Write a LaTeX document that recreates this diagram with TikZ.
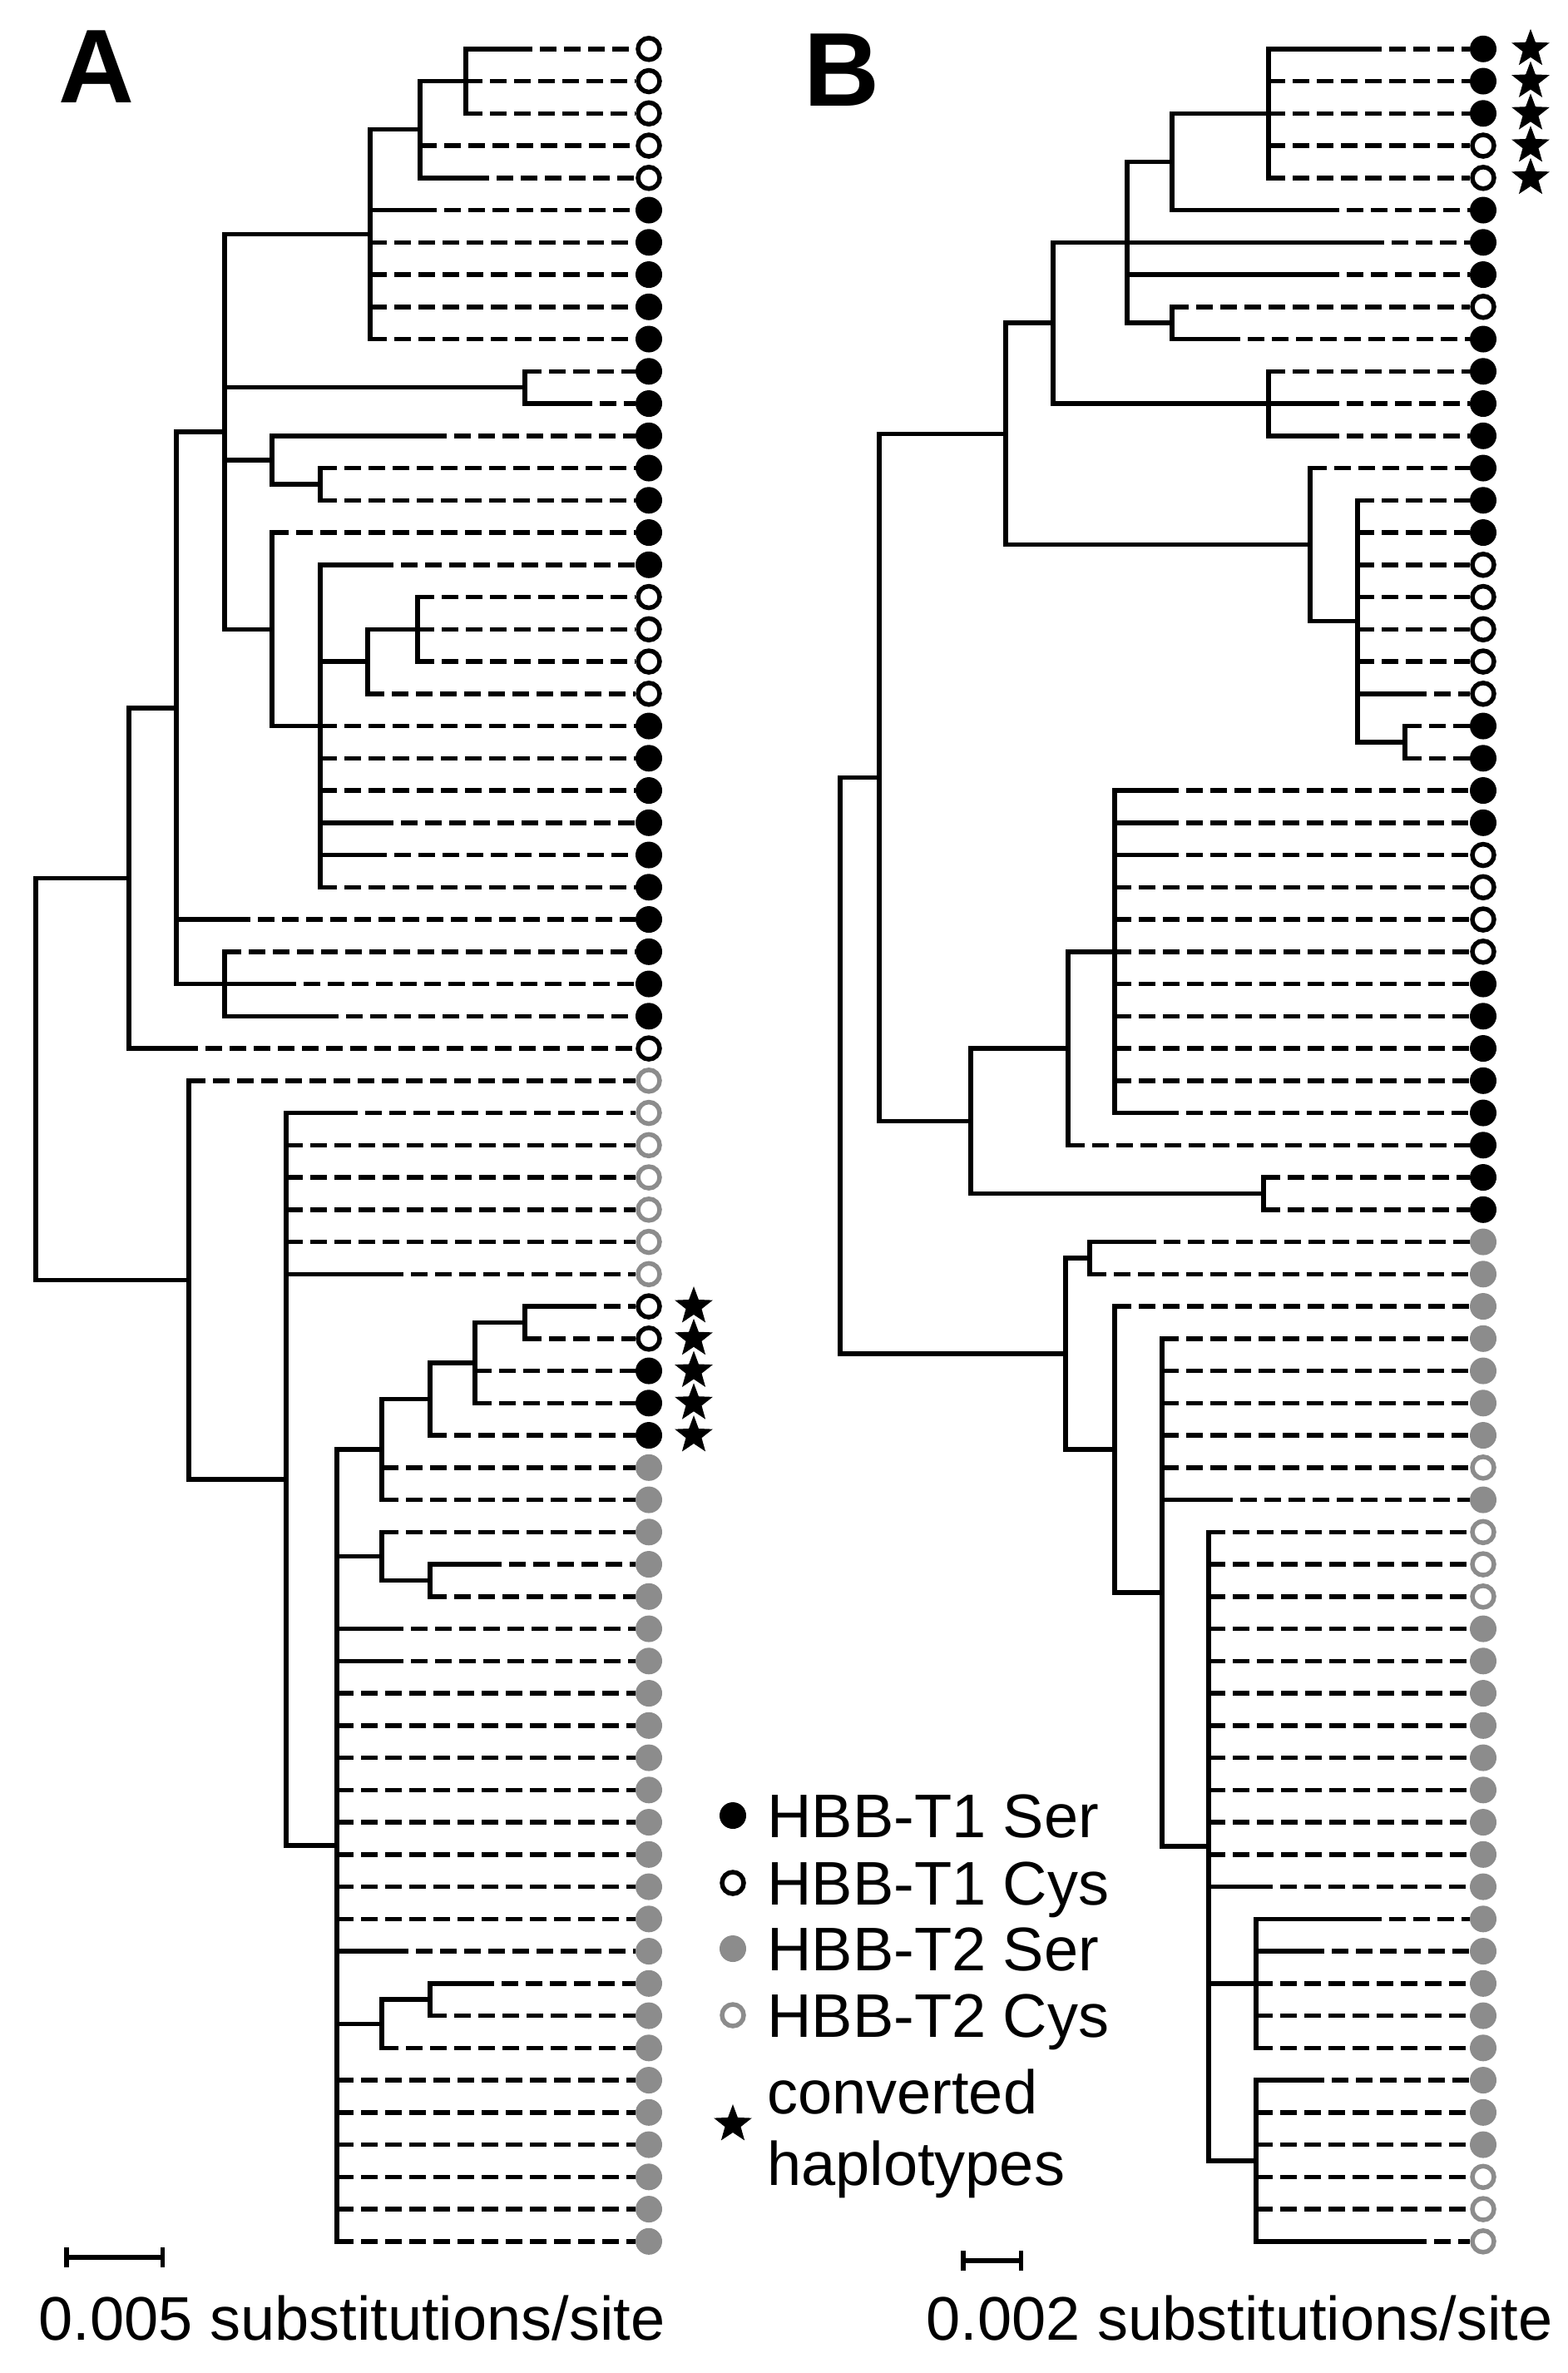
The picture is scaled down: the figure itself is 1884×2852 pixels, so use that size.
\documentclass[tikz,border=0pt]{standalone}
\usepackage{fontspec}
\setmainfont{Liberation Sans}
\usetikzlibrary{shapes.geometric,arrows.meta}
\definecolor{grayc}{HTML}{8C8C8C}
\newcommand\LY[1]{\fpeval{58.8+(#1-1)*38.75}}
\def\CX{780}
\newcommand\Lf[5]{%
  \coordinate (#1s) at (#4,{\LY{#2}});
  \node[#5] (#1) at (\CX,{\LY{#2}}) {};
  \draw[br] (#3) |- (#1s);
  \draw[dsh] (#1s) -- (#1.west);}
\tikzset{
  br/.style={line width=5.5pt,line cap=rect},
  dsh/.style={line width=5.5pt,dash pattern=on 20pt off 9pt},
  F/.style={circle,fill=black,minimum size=32pt,inner sep=0pt},
  O/.style={circle,draw=black,fill=white,line width=5.5pt,minimum size=26pt,inner sep=0pt},
  G/.style={circle,fill=grayc,minimum size=32pt,inner sep=0pt},
  GO/.style={circle,draw=grayc,fill=white,line width=5.5pt,minimum size=26pt,inner sep=0pt},
  starn/.style={star,star points=5,star point ratio=2.4,fill=black,minimum size=48pt,inner sep=0pt},
  lbl/.style={font=\fontsize{74}{80}\selectfont,inner sep=0pt},
  panel/.style={font=\fontsize{126}{130}\selectfont\bfseries,inner sep=0pt}
}
\begin{document}
\begin{tikzpicture}[x=1pt,y=-1pt]
\useasboundingbox (0,0) rectangle (1884,2852);
\node[panel,anchor=base west] (labA) at (70,124) {A};
\node[panel,anchor=base west] (labB) at (966,128) {B};
% ---------------- Tree A ----------------
\coordinate (rA) at (43,{\LY{32.95}});
\coordinate (a14) at (155,{\LY{26.72}});
\coordinate (a12) at (212,{\LY{21.4375}});
\coordinate (a4) at (270,{\LY{12.875}});
\coordinate (a3) at (445,{\LY{6.75}});
\coordinate (a2) at (505,{\LY{3.5}});
\coordinate (a1) at (560,{\LY{2}});
\coordinate (a5) at (631,{\LY{11.5}});
\coordinate (a6) at (327,{\LY{13.75}});
\coordinate (a7) at (385,{\LY{14.5}});
\coordinate (a8) at (327,{\LY{19}});
\coordinate (a9) at (385,{\LY{22}});
\coordinate (a10) at (442,{\LY{20}});
\coordinate (a11) at (502,{\LY{19}});
\coordinate (a13) at (270,{\LY{30}});
\coordinate (a15) at (227,{\LY{39.18}});
\coordinate (a16) at (344,{\LY{45.36}});
\coordinate (a17) at (405,{\LY{56.72}});
\coordinate (a18) at (459,{\LY{44.4375}});
\coordinate (a22) at (517,{\LY{42.875}});
\coordinate (a23) at (571,{\LY{41.75}});
\coordinate (a24) at (631,{\LY{40.5}});
\coordinate (a19) at (459,{\LY{47.75}});
\coordinate (a25) at (517,{\LY{48.5}});
\coordinate (a20) at (459,{\LY{62.25}});
\coordinate (a21) at (517,{\LY{61.5}});
\foreach \p/\c in {rA/a14,rA/a15,a14/a12,a12/a4,a12/a13,a4/a3,a4/a5,a4/a6,a4/a8,a3/a2,a2/a1,a6/a7,a8/a9,a9/a10,a10/a11,a15/a16,a16/a17,a17/a18,a18/a22,a22/a23,a23/a24,a17/a19,a19/a25,a17/a20,a20/a21}
  \draw[br] (\p) |- (\c);
\def\CX{780}
\Lf{A1}{1}{a1}{620}{O}
\Lf{A2}{2}{a1}{560}{O}
\Lf{A3}{3}{a1}{560}{O}
\Lf{A4}{4}{a2}{505}{O}
\Lf{A5}{5}{a2}{568}{O}
\Lf{A6}{6}{a3}{505}{F}
\Lf{A7}{7}{a3}{445}{F}
\Lf{A8}{8}{a3}{445}{F}
\Lf{A9}{9}{a3}{445}{F}
\Lf{A10}{10}{a3}{445}{F}
\Lf{A11}{11}{a5}{631}{F}
\Lf{A12}{12}{a5}{692}{F}
\Lf{A13}{13}{a6}{517}{F}
\Lf{A14}{14}{a7}{385}{F}
\Lf{A15}{15}{a7}{385}{F}
\Lf{A16}{16}{a8}{327}{F}
\Lf{A17}{17}{a9}{453}{F}
\Lf{A18}{18}{a11}{502}{O}
\Lf{A19}{19}{a11}{502}{O}
\Lf{A20}{20}{a11}{502}{O}
\Lf{A21}{21}{a10}{442}{O}
\Lf{A22}{22}{a9}{385}{F}
\Lf{A23}{23}{a9}{385}{F}
\Lf{A24}{24}{a9}{385}{F}
\Lf{A25}{25}{a9}{453}{F}
\Lf{A26}{26}{a9}{445}{F}
\Lf{A27}{27}{a9}{385}{F}
\Lf{A28}{28}{a12}{281}{F}
\Lf{A29}{29}{a13}{270}{F}
\Lf{A30}{30}{a13}{336}{F}
\Lf{A31}{31}{a13}{387}{F}
\Lf{A32}{32}{a14}{218}{O}
\Lf{A33}{33}{a15}{227}{GO}
\Lf{A34}{34}{a16}{410}{GO}
\Lf{A35}{35}{a16}{344}{GO}
\Lf{A36}{36}{a16}{344}{GO}
\Lf{A37}{37}{a16}{344}{GO}
\Lf{A38}{38}{a16}{344}{GO}
\Lf{A39}{39}{a16}{465}{GO}
\Lf{A40}{40}{a24}{697}{O}
\Lf{A41}{41}{a24}{631}{O}
\Lf{A42}{42}{a23}{571}{F}
\Lf{A43}{43}{a23}{571}{F}
\Lf{A44}{44}{a22}{517}{F}
\Lf{A45}{45}{a18}{459}{G}
\Lf{A46}{46}{a18}{459}{G}
\Lf{A47}{47}{a19}{459}{G}
\Lf{A48}{48}{a25}{583}{G}
\Lf{A49}{49}{a25}{517}{G}
\Lf{A50}{50}{a17}{465}{G}
\Lf{A51}{51}{a17}{465}{G}
\foreach \k in {52,...,59} {\Lf{A\k}{\k}{a17}{405}{G}}
\Lf{A60}{60}{a17}{471}{G}
\Lf{A61}{61}{a21}{574}{G}
\Lf{A62}{62}{a21}{517}{G}
\Lf{A63}{63}{a20}{459}{G}
\foreach \k in {64,...,69} {\Lf{A\k}{\k}{a17}{405}{G}}
\foreach \k in {40,...,44} {\node[starn] (sA\k) at (834,{\LY{\k}}) {};}
% ---------------- Tree B ----------------
\coordinate (rB) at (1010,{\LY{32.53}});
\coordinate (b9) at (1057,{\LY{23.6}});
\coordinate (b7) at (1209,{\LY{12.94}});
\coordinate (b4) at (1266,{\LY{9.5}});
\coordinate (b3) at (1355,{\LY{7}});
\coordinate (b2) at (1409,{\LY{4.5}});
\coordinate (b1) at (1525,{\LY{3}});
\coordinate (b5) at (1409,{\LY{9.5}});
\coordinate (b6) at (1525,{\LY{12}});
\coordinate (b8) at (1575,{\LY{16.375}});
\coordinate (b10) at (1632,{\LY{18.75}});
\coordinate (b11) at (1689,{\LY{22.5}});
\coordinate (b12) at (1167,{\LY{34.25}});
\coordinate (b13) at (1284,{\LY{32}});
\coordinate (b15) at (1340,{\LY{29}});
\coordinate (b14) at (1519,{\LY{36.5}});
\coordinate (b16) at (1281,{\LY{41.47}});
\coordinate (b17) at (1310,{\LY{38.5}});
\coordinate (b18) at (1340,{\LY{44.44}});
\coordinate (b19) at (1397,{\LY{48.875}});
\coordinate (b20) at (1453,{\LY{56.75}});
\coordinate (b21) at (1510,{\LY{61}});
\coordinate (b22) at (1510,{\LY{66.5}});
\foreach \p/\c in {rB/b9,rB/b16,b9/b7,b9/b12,b7/b4,b7/b8,b4/b3,b4/b6,b3/b2,b3/b5,b2/b1,b8/b10,b10/b11,b12/b13,b12/b14,b13/b15,b16/b17,b16/b18,b18/b19,b19/b20,b20/b21,b20/b22}
  \draw[br] (\p) |- (\c);
\def\CX{1783}
\Lf{B1}{1}{b1}{1641}{F}
\Lf{B2}{2}{b1}{1525}{F}
\Lf{B3}{3}{b1}{1525}{F}
\Lf{B4}{4}{b1}{1525}{O}
\Lf{B5}{5}{b1}{1525}{O}
\Lf{B6}{6}{b2}{1590}{F}
\Lf{B7}{7}{b3}{1644}{F}
\Lf{B8}{8}{b3}{1590}{F}
\Lf{B9}{9}{b5}{1409}{O}
\Lf{B10}{10}{b5}{1471}{F}
\Lf{B11}{11}{b6}{1525}{F}
\Lf{B12}{12}{b6}{1590}{F}
\Lf{B13}{13}{b6}{1590}{F}
\Lf{B14}{14}{b8}{1575}{F}
\Lf{B15}{15}{b10}{1632}{F}
\Lf{B16}{16}{b10}{1632}{F}
\foreach \k in {17,...,20} {\Lf{B\k}{\k}{b10}{1632}{O}}
\Lf{B21}{21}{b10}{1695}{O}
\Lf{B22}{22}{b11}{1689}{F}
\Lf{B23}{23}{b11}{1689}{F}
\Lf{B24}{24}{b15}{1397}{F}
\Lf{B25}{25}{b15}{1397}{F}
\Lf{B26}{26}{b15}{1397}{O}
\foreach \k in {27,28,29} {\Lf{B\k}{\k}{b15}{1340}{O}}
\foreach \k in {30,...,33} {\Lf{B\k}{\k}{b15}{1340}{F}}
\Lf{B34}{34}{b15}{1397}{F}
\Lf{B35}{35}{b13}{1284}{F}
\Lf{B36}{36}{b14}{1519}{F}
\Lf{B37}{37}{b14}{1519}{F}
\Lf{B38}{38}{b17}{1370}{G}
\Lf{B39}{39}{b17}{1310}{G}
\Lf{B40}{40}{b18}{1340}{G}
\foreach \k in {41,...,44} {\Lf{B\k}{\k}{b19}{1397}{G}}
\Lf{B45}{45}{b19}{1397}{GO}
\Lf{B46}{46}{b19}{1462}{G}
\foreach \k in {47,48,49} {\Lf{B\k}{\k}{b20}{1453}{GO}}
\foreach \k in {50,...,57} {\Lf{B\k}{\k}{b20}{1453}{G}}
\Lf{B58}{58}{b20}{1510}{G}
\Lf{B59}{59}{b21}{1641}{G}
\Lf{B60}{60}{b21}{1572}{G}
\foreach \k in {61,62,63} {\Lf{B\k}{\k}{b21}{1510}{G}}
\Lf{B64}{64}{b22}{1572}{G}
\Lf{B65}{65}{b22}{1510}{G}
\Lf{B66}{66}{b22}{1510}{G}
\Lf{B67}{67}{b22}{1510}{GO}
\Lf{B68}{68}{b22}{1510}{GO}
\Lf{B69}{69}{b22}{1695}{GO}
\foreach \k in {1,...,5} {\node[starn] (sB\k) at (1840,{\LY{\k}}) {};}
% ---------------- Legend ----------------
\node[F] (g1) at (881,2182) {};
\node[O] (g2) at (881,2263) {};
\node[G] (g3) at (881,2342) {};
\node[GO] (g4) at (881,2422) {};
\node[starn] (g5) at (881,2553) {};
\node[lbl,anchor=base west] (t1) at (922,2208) {HBB-T1 Ser};
\node[lbl,anchor=base west] (t2) at (922,2289) {HBB-T1 Cys};
\node[lbl,anchor=base west] (t3) at (922,2368) {HBB-T2 Ser};
\node[lbl,anchor=base west] (t4) at (922,2448) {HBB-T2 Cys};
\node[lbl,anchor=base west] (t5) at (922,2540) {converted};
\node[lbl,anchor=base west] (t6) at (922,2626) {haplotypes};
% ---------------- Scale bars ----------------
\coordinate (sa1) at (77,2713); \coordinate (sa2) at (198,2713);
\coordinate (sb1) at (1155,2717); \coordinate (sb2) at (1230,2717);
\draw[line width=5.5pt,{Bar[width=24pt]}-{Bar[width=24pt]}] (sa1) -- (sa2);
\draw[line width=5.5pt,{Bar[width=24pt]}-{Bar[width=24pt]}] (sb1) -- (sb2);
\node[lbl,anchor=base] (sca) at (423,2812) {0.005 substitutions/site};
\node[lbl,anchor=base] (scb) at (1490,2812) {0.002 substitutions/site};
\end{tikzpicture}
\end{document}
